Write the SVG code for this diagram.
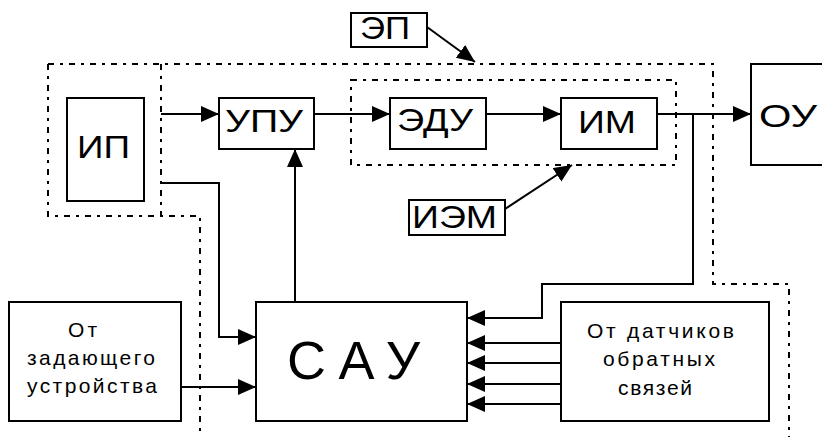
<svg xmlns="http://www.w3.org/2000/svg" width="822" height="437" viewBox="0 0 822 437">
<style>
.box{fill:#fff;stroke:#000;stroke-width:2}
.dot{fill:none;stroke:#000;stroke-width:2;stroke-dasharray:6,6,3,6}
.ln{fill:none;stroke:#000;stroke-width:2}
.ar{marker-end:url(#ah)}
text{font-family:"Liberation Sans",Arial,sans-serif;fill:#000}
.big{font-size:32px}
.sm{font-size:21px}
.sau{font-size:54px}
</style>
<defs>
<marker id="ah" markerUnits="userSpaceOnUse" markerWidth="19" markerHeight="17" refX="18" refY="8" orient="auto">
<path d="M0,0 L18,8 L0,16 Z" fill="#000"/>
</marker>
</defs>
<rect width="822" height="437" fill="#fff"/>
<g id="boundaries">
<path class="dot" d="M48,64 H713 V284 H789 V437"/>
<path class="dot" d="M48,64 V216 H200 V437"/>
<path class="dot" d="M161,64 V216"/>
<rect class="dot" x="351" y="80" width="325" height="85"/>
</g>
<g id="connectors">
<path class="ln ar" d="M161,114 H219"/>
<path class="ln ar" d="M314,114 H390"/>
<path class="ln ar" d="M486,114 H561"/>
<path class="ln ar" d="M657,114 H751"/>
<path class="ln ar" d="M693,114 V284 H542 V318 H467"/>
<path class="ln ar" d="M161,183 H219 V337 H256"/>
<path class="ln ar" d="M295,302 V149"/>
<path class="ln ar" d="M181,387 H256"/>
<path class="ln ar" d="M561,343 H467"/>
<path class="ln ar" d="M561,363 H467"/>
<path class="ln ar" d="M561,384 H467"/>
<path class="ln ar" d="M561,404 H467"/>
<path class="ln ar" d="M427,27 L475,62"/>
<path class="ln ar" d="M505,209 L572,165"/>
</g>
<g id="EP">
<rect class="box" x="351" y="13" width="76" height="34"/>
<text class="big" x="360" y="39" textLength="50" lengthAdjust="spacingAndGlyphs">ЭП</text>
</g>
<g id="IP">
<rect class="box" x="67" y="98" width="77" height="103"/>
<text class="big" x="77" y="158" textLength="53" lengthAdjust="spacingAndGlyphs">ИП</text>
</g>
<g id="UPU">
<rect class="box" x="219" y="98" width="95" height="51"/>
<text class="big" x="225" y="132" textLength="78" lengthAdjust="spacingAndGlyphs">УПУ</text>
</g>
<g id="EDU">
<rect class="box" x="390" y="98" width="96" height="51"/>
<text class="big" x="397" y="131" textLength="76" lengthAdjust="spacingAndGlyphs">ЭДУ</text>
</g>
<g id="IM">
<rect class="box" x="561" y="98" width="96" height="51"/>
<text class="big" x="578" y="133" textLength="58" lengthAdjust="spacingAndGlyphs">ИМ</text>
</g>
<g id="OU">
<rect class="box" x="751" y="64" width="80" height="101"/>
<text class="big" x="759" y="127" textLength="58" lengthAdjust="spacingAndGlyphs">ОУ</text>
</g>
<g id="IEM">
<rect class="box" x="409" y="200" width="96" height="35"/>
<text class="big" x="412" y="228" textLength="85" lengthAdjust="spacingAndGlyphs">ИЭМ</text>
</g>
<g id="SAU">
<rect class="box" x="256" y="302" width="211" height="119"/>
<text class="sau" x="287" y="379" textLength="133" lengthAdjust="spacing">САУ</text>
</g>
<g id="zadayushchee">
<rect class="box" x="9" y="302" width="172" height="119"/>
<text class="sm" x="68" y="337" textLength="29" lengthAdjust="spacing">От</text>
<text class="sm" x="27" y="365" textLength="128" lengthAdjust="spacing">задающего</text>
<text class="sm" x="27" y="393" textLength="130" lengthAdjust="spacing">устройства</text>
</g>
<g id="datchiki">
<rect class="box" x="561" y="302" width="208" height="119"/>
<text class="sm" x="587" y="338" textLength="147" lengthAdjust="spacing">От датчиков</text>
<text class="sm" x="603" y="366" textLength="112" lengthAdjust="spacing">обратных</text>
<text class="sm" x="618" y="395" textLength="74" lengthAdjust="spacing">связей</text>
</g>
</svg>
